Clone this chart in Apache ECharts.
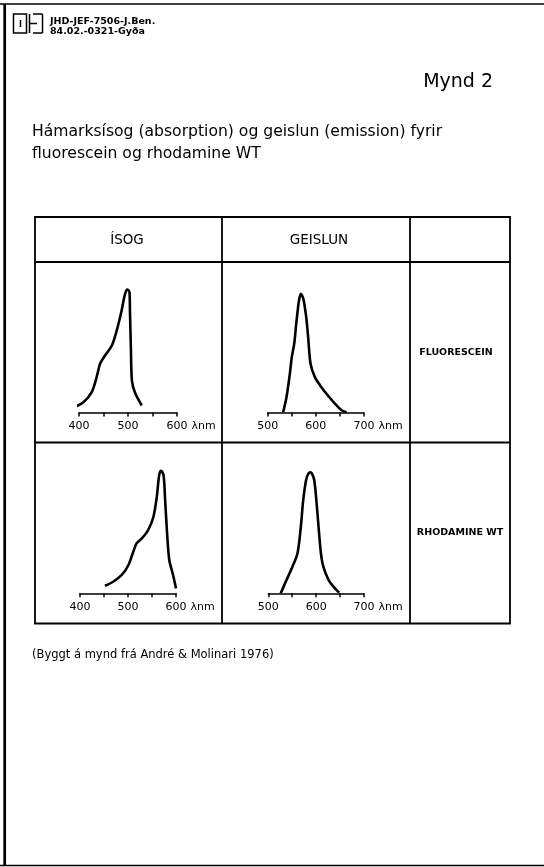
<!DOCTYPE html>
<html>
<head>
<meta charset="utf-8">
<script src="https://cdn.jsdelivr.net/npm/echarts@6/dist/echarts.min.js"></script>
<style>
html, body { margin: 0; padding: 0; background: #fff; }
#chart { width: 544px; height: 867px; }
</style>
</head>
<body>
<div id="chart"></div>
<script>
// gildi lesin af myndinni (hlutfallslegur styrkur, sami kvarði í öllum reitum)
const flAbsWl  = [388, 409, 426, 436, 443, 453, 467, 477, 487, 494, 499, 503, 504, 506, 508, 514, 528];
const flAbsVal = [3.6, 7.9, 15.6, 27.2, 37.5, 43.8, 51.5, 63.1, 78.5, 91.3, 94.6, 92.5, 78.5, 47.7, 24.6, 15.6, 5.4];

const flEmWl  = [532, 539, 546, 550, 555, 560, 565, 569, 574, 580, 584, 589, 598, 609, 622, 640, 654, 664];
const flEmVal = [0.2, 11.8, 29.8, 42.5, 52.8, 70.8, 86.2, 91.3, 87.5, 73.3, 57.9, 37.5, 27.2, 20.8, 14.4, 6.7, 1.5, 0.2];

const rhAbsWl  = [452, 469, 487, 501, 511, 518, 529, 542, 553, 560, 565, 569, 574, 577, 581, 586, 593, 600];
const rhAbsVal = [5.8, 8.9, 14.1, 21.8, 32, 38.5, 42.3, 48.7, 58.9, 74.3, 91, 94.3, 91, 74.3, 48.7, 25.6, 15.4, 3.8];

const rhEmWl  = [526, 535, 549, 561, 568, 573, 579, 584, 588, 591, 596, 601, 605, 610, 615, 626, 636, 648];
const rhEmVal = [0, 7.7, 19.2, 30.8, 51.2, 71.8, 87.2, 92.3, 93, 92.3, 87.2, 69.2, 51.2, 30.8, 20.5, 10.2, 5.1, 0.5];

const absRange = [400, 600];
const emRange  = [500, 700];
const colHeaders = ['ÍSOG', 'GEISLUN'];
const rowHeaders = ['FLUORESCEIN', 'RHODAMINE WT'];

function pairs(xs, ys) { return xs.map((x, i) => [x, ys[i]]); }

const FONT = 'DejaVu Sans';

// staðsetning reitanna
const panels = [
    {left: 79,    width: 98,   top: 282.5, range: absRange, data: pairs(flAbsWl, flAbsVal)},
    {left: 267.7, width: 96.3, top: 282.5, range: emRange,  data: pairs(flEmWl, flEmVal)},
    {left: 80,    width: 96,   top: 463.3, range: absRange, data: pairs(rhAbsWl, rhAbsVal)},
    {left: 268.3, width: 95.7, top: 463.3, range: emRange,  data: pairs(rhEmWl, rhEmVal)}
];

function line(x1, y1, x2, y2, w) {
    return {type: 'line', shape: {x1, y1, x2, y2}, style: {stroke: '#000', lineWidth: w || 1.8}};
}
function text(t, x, y, size, opts) {
    return {type: 'text', x, y, style: Object.assign({
        text: t, fill: '#000', font: (opts && opts.weight || 'normal') + ' ' + size + 'px "' + FONT + '"',
        textAlign: 'left', textVerticalAlign: 'middle'
    }, opts && opts.style)};
}

let graphic = [
    // rammi síðunnar
    line(0, 4, 544, 4, 1.5),
    line(4.7, 4, 4.7, 866, 2.7),
    line(0, 865.5, 544, 865.5, 1.5),
    // merki
    {type: 'rect', shape: {x: 13.5, y: 14, width: 13, height: 19}, style: {fill: 'none', stroke: '#000', lineWidth: 1.5}},
    line(20.5, 20, 20.5, 27, 1.5),
    line(29.5, 14, 29.5, 33, 1.5),
    line(29.5, 23.5, 37, 23.5, 1.5),
    line(33, 14, 42.5, 14, 1.5),
    line(42.5, 14, 42.5, 33, 1.5),
    line(33, 33, 42.5, 33, 1.5),
    text('JHD-JEF-7506-J.Ben.', 50, 21.4, 9.5, {weight: 'bold'}),
    text('84.02.-0321-Gyða', 50, 31.4, 9.5, {weight: 'bold'}),
    text('Mynd 2', 493, 82, 19, {style: {textAlign: 'right'}}),
    text('Hámarksísog (absorption) og geislun (emission) fyrir', 32, 132, 15.6),
    text('fluorescein og rhodamine WT', 32, 154, 15.6),
    // tafla
    {type: 'rect', shape: {x: 35, y: 217, width: 475, height: 406.5}, style: {fill: 'none', stroke: '#000', lineWidth: 1.8}},
    line(222, 217, 222, 623.5),
    line(410, 217, 410, 623.5),
    line(35, 262, 510, 262),
    line(35, 442.5, 510, 442.5),
    text(colHeaders[0], 127, 240, 13.5, {style: {textAlign: 'center'}}),
    text(colHeaders[1], 319, 240, 13.5, {style: {textAlign: 'center'}}),
    text(rowHeaders[0], 456, 353, 9.5, {weight: 'bold', style: {textAlign: 'center'}}),
    text(rowHeaders[1], 460, 533, 9.5, {weight: 'bold', style: {textAlign: 'center'}}),
    text('(Byggt á mynd frá André & Molinari 1976)', 32, 655, 11.5)
];

let chart = echarts.init(document.getElementById('chart'), null, {renderer: 'canvas'});
let option = {
    backgroundColor: '#fff',
    animation: false,
    grid: panels.map(p => ({left: p.left, width: p.width, top: p.top, height: 130})),
    xAxis: panels.map((p, i) => ({
        type: 'value',
        gridIndex: i,
        min: p.range[0],
        max: p.range[1],
        interval: 50,
        name: 'λnm',
        nameLocation: 'end',
        nameGap: 9,
        nameTextStyle: {color: '#000', fontFamily: FONT, fontSize: 11, verticalAlign: 'top', padding: [8, 0, 0, 0]},
        axisLine: {show: true, lineStyle: {color: '#000', width: 1.5}},
        axisTick: {show: true, inside: false, length: 4, lineStyle: {color: '#000', width: 1.5}},
        axisLabel: {
            color: '#000', fontFamily: FONT, fontSize: 11, margin: 8,
            formatter: v => (v % 100 === 0 ? String(v) : '')
        },
        splitLine: {show: false}
    })),
    yAxis: panels.map((p, i) => ({
        type: 'value', gridIndex: i, min: 0, max: 100, show: false
    })),
    series: panels.map((p, i) => ({
        type: 'line',
        xAxisIndex: i,
        yAxisIndex: i,
        data: p.data,
        smooth: 0.3,
        showSymbol: false,
        lineStyle: {color: '#000', width: 2.6}
    })),
    graphic: graphic
};
chart.setOption(option);
</script>
</body>
</html>
